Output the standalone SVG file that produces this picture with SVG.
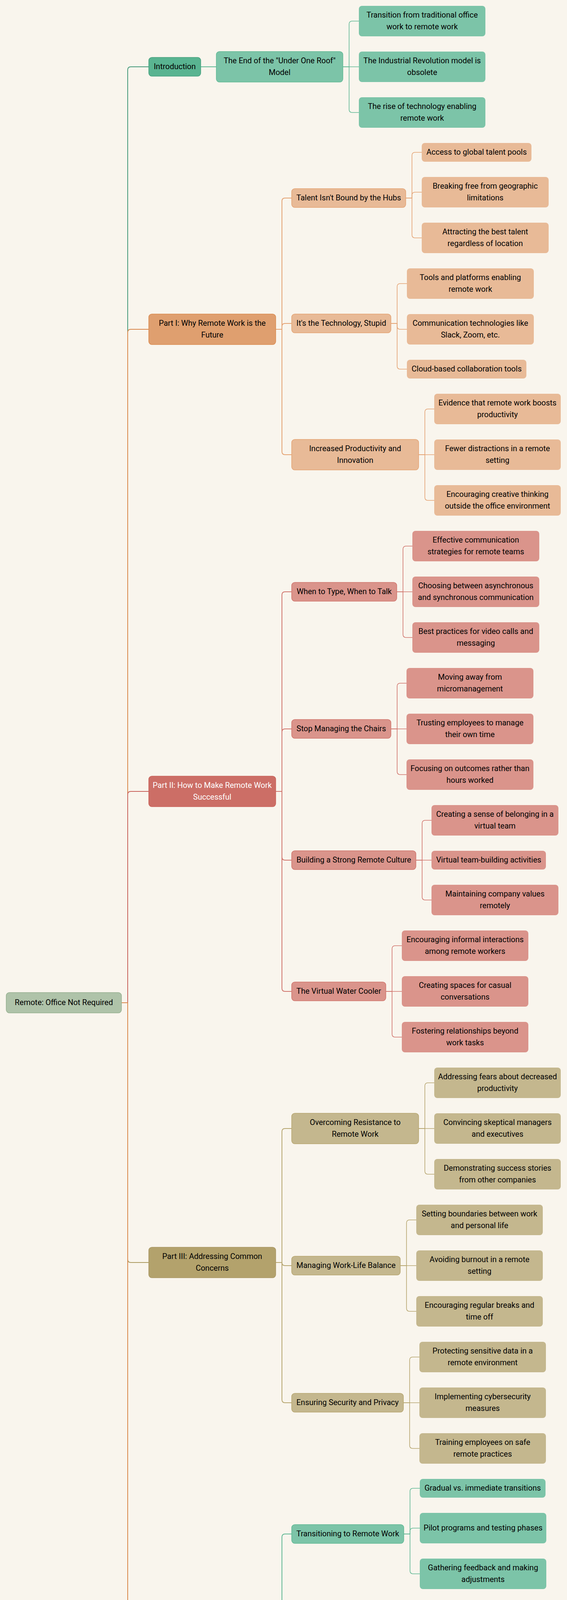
<svg xmlns="http://www.w3.org/2000/svg" width="1452" height="5136" viewBox="0 0 1452 5136">
<style>
.t{font-family:Roboto,"Liberation Sans",Arial,sans-serif;font-size:20px;text-anchor:middle;fill:#000}
.tw{fill:#ffffff}
.c{fill:none;stroke-linecap:butt}
.c1{stroke-width:2}
.c2{stroke-width:2}
.c3{stroke-width:1.6}
.dg{stroke:#45997A}.mg{stroke:#5FB894}
.do{stroke:#D9874B}.mo{stroke:#E4A272}
.dr{stroke:#C8625B}.mr{stroke:#D0746C}
.dk{stroke:#AD9B60}.mk{stroke:#B6A56F}
.root{fill:#AFC3A9;stroke:#94AF8E;stroke-width:1.5}
.l1g{fill:#59B491;stroke:#46A07E;stroke-width:1.5}
.l1o{fill:#DF9F6F;stroke:#D98A4F;stroke-width:1.5}
.l1r{fill:#CC6E66;stroke:#C96259;stroke-width:1.5}
.l1k{fill:#B3A26C;stroke:#A99763;stroke-width:1.5}
.l2g{fill:#7CC4A8;stroke:#5FB894;stroke-width:1.5}
.l2o{fill:#E8BA97;stroke:#E3A272;stroke-width:1.5}
.l2r{fill:#DA948B;stroke:#D0746C;stroke-width:1.5}
.l2k{fill:#C4B78E;stroke:#B6A56F;stroke-width:1.5}
.l3g{fill:#7CC4A8}.l3o{fill:#E8BA97}.l3r{fill:#DA948B}.l3k{fill:#C4B78E}
</style>
<rect x="0" y="0" width="1452" height="5136" fill="#F9F5ED"/>
<g id="connectors">
<path class="c c1 dg" d="M311 2567 H327 V179 Q327 171 335 171 H381"/>
<path class="c c1 do" d="M311 2567 H327 V851 Q327 843 335 843 H381"/>
<path class="c c1 dr" d="M311 2567 H327 V2034 Q327 2026 335 2026 H381"/>
<path class="c c1 dk" d="M311 2567 H327 V3224 Q327 3232 335 3232 H381"/>
<path class="c c1 dg" d="M311 2567 H327 V4270 Q327 4278 335 4278 H381"/>
<path class="c c1 do" d="M311 2567 H327 V4957 Q327 4965 335 4965 H381"/>

<path class="c c2 mg" d="M514 171 H554"/>
<path class="c c2 mo" d="M706 843 H722 V515 Q722 507 730 507 H747"/>
<path class="c c2 mo" d="M706 843 H722 V836 Q722 828 730 828 H747"/>
<path class="c c2 mo" d="M706 843 H722 V1156 Q722 1164 730 1164 H747"/>
<path class="c c2 mr" d="M706 2026 H722 V1523 Q722 1515 730 1515 H747"/>
<path class="c c2 mr" d="M706 2026 H722 V1874 Q722 1866 730 1866 H747"/>
<path class="c c2 mr" d="M706 2026 H722 V2194 Q722 2202 730 2202 H747"/>
<path class="c c2 mr" d="M706 2026 H722 V2530 Q722 2538 730 2538 H747"/>
<path class="c c2 mk" d="M706 3232 H722 V2897 Q722 2889 730 2889 H747"/>
<path class="c c2 mk" d="M706 3232 H722 V3232 Q722 3240 730 3240 H747"/>
<path class="c c2 mk" d="M706 3232 H722 V3583 Q722 3591 730 3591 H747"/>
<path class="c c2 mg" d="M706 4278 H722 V3935 Q722 3927 730 3927 H747"/>
<path class="c c2 mg" d="M706 4278 H722 V4271 Q722 4263 730 4263 H747"/>
<path class="c c2 mg" d="M706 4278 H722 V4606 Q722 4614 730 4614 H747"/>
<path class="c c2 mo" d="M506 4965 H547"/>

<path class="c c3 mg" d="M878 171 H894 V62 Q894 54 902 54 H919"/>
<path class="c c3 mg" d="M878 171 H919"/>
<path class="c c3 mg" d="M878 171 H894 V280 Q894 288 902 288 H919"/>

<path class="c c3 mo" d="M1039 507 H1055 V398 Q1055 390 1063 390 H1080"/>
<path class="c c3 mo" d="M1039 507 H1055 V500 Q1055 492 1063 492 H1080"/>
<path class="c c3 mo" d="M1039 507 H1055 V601 Q1055 609 1063 609 H1080"/>
<path class="c c3 mo" d="M1001 828 H1017 V734 Q1017 726 1025 726 H1042"/>
<path class="c c3 mo" d="M1001 828 H1017 V835 Q1017 843 1025 843 H1042"/>
<path class="c c3 mo" d="M1001 828 H1017 V937 Q1017 945 1025 945 H1042"/>
<path class="c c3 mo" d="M1072 1164 H1088 V1055 Q1088 1047 1096 1047 H1112"/>
<path class="c c3 mo" d="M1072 1164 H1112"/>
<path class="c c3 mo" d="M1072 1164 H1088 V1273 Q1088 1281 1096 1281 H1112"/>

<path class="c c3 mr" d="M1016 1515 H1032 V1406 Q1032 1398 1040 1398 H1056"/>
<path class="c c3 mr" d="M1016 1515 H1056"/>
<path class="c c3 mr" d="M1016 1515 H1032 V1624 Q1032 1632 1040 1632 H1056"/>
<path class="c c3 mr" d="M1001 1866 H1017 V1757 Q1017 1749 1025 1749 H1041"/>
<path class="c c3 mr" d="M1001 1866 H1041"/>
<path class="c c3 mr" d="M1001 1866 H1017 V1975 Q1017 1983 1025 1983 H1041"/>
<path class="c c3 mr" d="M1065 2202 H1081 V2108 Q1081 2100 1089 2100 H1105"/>
<path class="c c3 mr" d="M1065 2202 H1105"/>
<path class="c c3 mr" d="M1065 2202 H1081 V2296 Q1081 2304 1089 2304 H1105"/>
<path class="c c3 mr" d="M988 2538 H1004 V2429 Q1004 2421 1012 2421 H1029"/>
<path class="c c3 mr" d="M988 2538 H1029"/>
<path class="c c3 mr" d="M988 2538 H1004 V2647 Q1004 2655 1012 2655 H1029"/>

<path class="c c3 mk" d="M1072 2889 H1088 V2780 Q1088 2772 1096 2772 H1112"/>
<path class="c c3 mk" d="M1072 2889 H1112"/>
<path class="c c3 mk" d="M1072 2889 H1088 V2998 Q1088 3006 1096 3006 H1112"/>
<path class="c c3 mk" d="M1025 3240 H1041 V3131 Q1041 3123 1049 3123 H1066"/>
<path class="c c3 mk" d="M1025 3240 H1066"/>
<path class="c c3 mk" d="M1025 3240 H1041 V3349 Q1041 3357 1049 3357 H1066"/>
<path class="c c3 mk" d="M1033 3591 H1049 V3482 Q1049 3474 1057 3474 H1074"/>
<path class="c c3 mk" d="M1033 3591 H1074"/>
<path class="c c3 mk" d="M1033 3591 H1049 V3700 Q1049 3708 1057 3708 H1074"/>

<path class="c c3 mg" d="M1034 3927 H1050 V3818 Q1050 3810 1058 3810 H1075"/>
<path class="c c3 mg" d="M1034 3927 H1050 V3920 Q1050 3912 1058 3912 H1075"/>
<path class="c c3 mg" d="M1034 3927 H1050 V4021 Q1050 4029 1058 4029 H1075"/>
<path class="c c3 mg" d="M1059 4263 H1075 V4154 Q1075 4146 1083 4146 H1100"/>
<path class="c c3 mg" d="M1059 4263 H1100"/>
<path class="c c3 mg" d="M1059 4263 H1075 V4372 Q1075 4380 1083 4380 H1100"/>
<path class="c c3 mg" d="M1072 4614 H1088 V4505 Q1088 4497 1096 4497 H1112"/>
<path class="c c3 mg" d="M1072 4614 H1112"/>
<path class="c c3 mg" d="M1072 4614 H1088 V4723 Q1088 4731 1096 4731 H1112"/>

<path class="c c3 mo" d="M707 4965 H723 V4856 Q723 4848 731 4848 H747"/>
<path class="c c3 mo" d="M707 4965 H723 V4958 Q723 4950 731 4950 H747"/>
<path class="c c3 mo" d="M707 4965 H723 V5059 Q723 5067 731 5067 H747"/>
</g>

<g id="root"><rect class="root" x="16" y="2541" width="295" height="52" rx="8"/><text class="t" x="163.5" y="2573">Remote: Office Not Required</text></g>

<g id="introduction"><rect class="l1g" x="381" y="147" width="133" height="48" rx="8"/><text class="t" x="447.5" y="177">Introduction</text></g>
<g id="end-under-one-roof"><rect class="l2g" x="554" y="132" width="324" height="78" rx="8"/><text class="t" x="716"><tspan x="716" y="162">The End of the "Under One Roof"</tspan><tspan x="716" y="192">Model</tspan></text></g>
<g id="transition"><rect class="l3g" x="919" y="15" width="324" height="78" rx="8"/><text class="t"><tspan x="1081" y="45">Transition from traditional office</tspan><tspan x="1081" y="75">work to remote work</tspan></text></g>
<g id="industrial"><rect class="l3g" x="919" y="132" width="324" height="78" rx="8"/><text class="t"><tspan x="1081" y="162">The Industrial Revolution model is</tspan><tspan x="1081" y="192">obsolete</tspan></text></g>
<g id="rise-tech"><rect class="l3g" x="919" y="249" width="324" height="78" rx="8"/><text class="t"><tspan x="1081" y="279">The rise of technology enabling</tspan><tspan x="1081" y="309">remote work</tspan></text></g>

<g id="part1"><rect class="l1o" x="381" y="804" width="325" height="78" rx="8"/><text class="t"><tspan x="543.5" y="834">Part I: Why Remote Work is the</tspan><tspan x="543.5" y="864">Future</tspan></text></g>
<g id="talent"><rect class="l2o" x="747" y="483" width="292" height="48" rx="8"/><text class="t" x="893" y="513">Talent Isn't Bound by the Hubs</text></g>
<g id="access"><rect class="l3o" x="1080" y="366" width="281" height="48" rx="8"/><text class="t" x="1220.5" y="396">Access to global talent pools</text></g>
<g id="breaking"><rect class="l3o" x="1080" y="453" width="325" height="78" rx="8"/><text class="t"><tspan x="1242.5" y="483">Breaking free from geographic</tspan><tspan x="1242.5" y="513">limitations</tspan></text></g>
<g id="attracting"><rect class="l3o" x="1080" y="570" width="325" height="78" rx="8"/><text class="t"><tspan x="1242.5" y="600">Attracting the best talent</tspan><tspan x="1242.5" y="630">regardless of location</tspan></text></g>
<g id="technology"><rect class="l2o" x="747" y="804" width="254" height="48" rx="8"/><text class="t" x="874" y="834">It's the Technology, Stupid</text></g>
<g id="tools"><rect class="l3o" x="1042" y="687" width="325" height="78" rx="8"/><text class="t"><tspan x="1204.5" y="717">Tools and platforms enabling</tspan><tspan x="1204.5" y="747">remote work</tspan></text></g>
<g id="communication-tech"><rect class="l3o" x="1042" y="804" width="325" height="78" rx="8"/><text class="t"><tspan x="1204.5" y="834">Communication technologies like</tspan><tspan x="1204.5" y="864">Slack, Zoom, etc.</tspan></text></g>
<g id="cloud"><rect class="l3o" x="1042" y="921" width="306" height="48" rx="8"/><text class="t" x="1195" y="951">Cloud-based collaboration tools</text></g>
<g id="productivity"><rect class="l2o" x="747" y="1125" width="325" height="78" rx="8"/><text class="t"><tspan x="909.5" y="1155">Increased Productivity and</tspan><tspan x="909.5" y="1185">Innovation</tspan></text></g>
<g id="evidence"><rect class="l3o" x="1112" y="1008" width="324" height="78" rx="8"/><text class="t"><tspan x="1274" y="1038">Evidence that remote work boosts</tspan><tspan x="1274" y="1068">productivity</tspan></text></g>
<g id="fewer"><rect class="l3o" x="1112" y="1125" width="324" height="78" rx="8"/><text class="t"><tspan x="1274" y="1155">Fewer distractions in a remote</tspan><tspan x="1274" y="1185">setting</tspan></text></g>
<g id="creative"><rect class="l3o" x="1112" y="1242" width="324" height="78" rx="8"/><text class="t"><tspan x="1274" y="1272">Encouraging creative thinking</tspan><tspan x="1274" y="1302">outside the office environment</tspan></text></g>

<g id="part2"><rect class="l1r" x="381" y="1987" width="325" height="78" rx="8"/><text class="t tw"><tspan x="543.5" y="2017">Part II: How to Make Remote Work</tspan><tspan x="543.5" y="2047">Successful</tspan></text></g>
<g id="type-talk"><rect class="l2r" x="747" y="1491" width="269" height="48" rx="8"/><text class="t" x="881.5" y="1521">When to Type, When to Talk</text></g>
<g id="effective"><rect class="l3r" x="1056" y="1359" width="325" height="78" rx="8"/><text class="t"><tspan x="1218.5" y="1389">Effective communication</tspan><tspan x="1218.5" y="1419">strategies for remote teams</tspan></text></g>
<g id="choosing"><rect class="l3r" x="1056" y="1476" width="325" height="78" rx="8"/><text class="t"><tspan x="1218.5" y="1506">Choosing between asynchronous</tspan><tspan x="1218.5" y="1536">and synchronous communication</tspan></text></g>
<g id="best"><rect class="l3r" x="1056" y="1593" width="325" height="78" rx="8"/><text class="t"><tspan x="1218.5" y="1623">Best practices for video calls and</tspan><tspan x="1218.5" y="1653">messaging</tspan></text></g>
<g id="chairs"><rect class="l2r" x="747" y="1842" width="254" height="48" rx="8"/><text class="t" x="874" y="1872">Stop Managing the Chairs</text></g>
<g id="moving"><rect class="l3r" x="1041" y="1710" width="325" height="78" rx="8"/><text class="t"><tspan x="1203.5" y="1740">Moving away from</tspan><tspan x="1203.5" y="1770">micromanagement</tspan></text></g>
<g id="trusting"><rect class="l3r" x="1041" y="1827" width="325" height="78" rx="8"/><text class="t"><tspan x="1203.5" y="1857">Trusting employees to manage</tspan><tspan x="1203.5" y="1887">their own time</tspan></text></g>
<g id="focusing"><rect class="l3r" x="1041" y="1944" width="325" height="78" rx="8"/><text class="t"><tspan x="1203.5" y="1974">Focusing on outcomes rather than</tspan><tspan x="1203.5" y="2004">hours worked</tspan></text></g>
<g id="culture"><rect class="l2r" x="747" y="2178" width="318" height="48" rx="8"/><text class="t" x="906" y="2208">Building a Strong Remote Culture</text></g>
<g id="belonging"><rect class="l3r" x="1105" y="2061" width="325" height="78" rx="8"/><text class="t"><tspan x="1267.5" y="2091">Creating a sense of belonging in a</tspan><tspan x="1267.5" y="2121">virtual team</tspan></text></g>
<g id="team-building"><rect class="l3r" x="1105" y="2178" width="293" height="48" rx="8"/><text class="t" x="1251.5" y="2208">Virtual team-building activities</text></g>
<g id="values"><rect class="l3r" x="1105" y="2265" width="325" height="78" rx="8"/><text class="t"><tspan x="1267.5" y="2295">Maintaining company values</tspan><tspan x="1267.5" y="2325">remotely</tspan></text></g>
<g id="water-cooler"><rect class="l2r" x="747" y="2514" width="241" height="48" rx="8"/><text class="t" x="867.5" y="2544">The Virtual Water Cooler</text></g>
<g id="informal"><rect class="l3r" x="1029" y="2382" width="324" height="78" rx="8"/><text class="t"><tspan x="1191" y="2412">Encouraging informal interactions</tspan><tspan x="1191" y="2442">among remote workers</tspan></text></g>
<g id="casual"><rect class="l3r" x="1029" y="2499" width="324" height="78" rx="8"/><text class="t"><tspan x="1191" y="2529">Creating spaces for casual</tspan><tspan x="1191" y="2559">conversations</tspan></text></g>
<g id="fostering"><rect class="l3r" x="1029" y="2616" width="324" height="78" rx="8"/><text class="t"><tspan x="1191" y="2646">Fostering relationships beyond</tspan><tspan x="1191" y="2676">work tasks</tspan></text></g>

<g id="part3"><rect class="l1k" x="381" y="3193" width="325" height="78" rx="8"/><text class="t"><tspan x="543.5" y="3223">Part III: Addressing Common</tspan><tspan x="543.5" y="3253">Concerns</tspan></text></g>
<g id="resistance"><rect class="l2k" x="747" y="2850" width="325" height="78" rx="8"/><text class="t"><tspan x="909.5" y="2880">Overcoming Resistance to</tspan><tspan x="909.5" y="2910">Remote Work</tspan></text></g>
<g id="fears"><rect class="l3k" x="1112" y="2733" width="324" height="78" rx="8"/><text class="t"><tspan x="1274" y="2763">Addressing fears about decreased</tspan><tspan x="1274" y="2793">productivity</tspan></text></g>
<g id="convincing"><rect class="l3k" x="1112" y="2850" width="324" height="78" rx="8"/><text class="t"><tspan x="1274" y="2880">Convincing skeptical managers</tspan><tspan x="1274" y="2910">and executives</tspan></text></g>
<g id="demonstrating"><rect class="l3k" x="1112" y="2967" width="324" height="78" rx="8"/><text class="t"><tspan x="1274" y="2997">Demonstrating success stories</tspan><tspan x="1274" y="3027">from other companies</tspan></text></g>
<g id="work-life"><rect class="l2k" x="747" y="3216" width="278" height="48" rx="8"/><text class="t" x="886" y="3246">Managing Work-Life Balance</text></g>
<g id="boundaries"><rect class="l3k" x="1066" y="3084" width="324" height="78" rx="8"/><text class="t"><tspan x="1228" y="3114">Setting boundaries between work</tspan><tspan x="1228" y="3144">and personal life</tspan></text></g>
<g id="burnout"><rect class="l3k" x="1066" y="3201" width="324" height="78" rx="8"/><text class="t"><tspan x="1228" y="3231">Avoiding burnout in a remote</tspan><tspan x="1228" y="3261">setting</tspan></text></g>
<g id="breaks"><rect class="l3k" x="1066" y="3318" width="324" height="78" rx="8"/><text class="t"><tspan x="1228" y="3348">Encouraging regular breaks and</tspan><tspan x="1228" y="3378">time off</tspan></text></g>
<g id="security"><rect class="l2k" x="747" y="3567" width="286" height="48" rx="8"/><text class="t" x="890" y="3597">Ensuring Security and Privacy</text></g>
<g id="protecting"><rect class="l3k" x="1074" y="3435" width="324" height="78" rx="8"/><text class="t"><tspan x="1236" y="3465">Protecting sensitive data in a</tspan><tspan x="1236" y="3495">remote environment</tspan></text></g>
<g id="cybersecurity"><rect class="l3k" x="1074" y="3552" width="324" height="78" rx="8"/><text class="t"><tspan x="1236" y="3582">Implementing cybersecurity</tspan><tspan x="1236" y="3612">measures</tspan></text></g>
<g id="training"><rect class="l3k" x="1074" y="3669" width="324" height="78" rx="8"/><text class="t"><tspan x="1236" y="3699">Training employees on safe</tspan><tspan x="1236" y="3729">remote practices</tspan></text></g>

<g id="part4"><rect class="l1g" x="381" y="4239" width="325" height="78" rx="8"/><text class="t"><tspan x="543.5" y="4269">Part IV: Practical Steps for</tspan><tspan x="543.5" y="4299">Implementation</tspan></text></g>
<g id="transitioning"><rect class="l2g" x="747" y="3903" width="287" height="48" rx="8"/><text class="t" x="890.5" y="3933">Transitioning to Remote Work</text></g>
<g id="gradual"><rect class="l3g" x="1075" y="3786" width="322" height="48" rx="8"/><text class="t" x="1236" y="3816">Gradual vs. immediate transitions</text></g>
<g id="pilot"><rect class="l3g" x="1075" y="3873" width="324" height="78" rx="8"/><text class="t" x="1237" y="3918">Pilot programs and testing phases</text></g>
<g id="feedback"><rect class="l3g" x="1075" y="3990" width="324" height="78" rx="8"/><text class="t"><tspan x="1237" y="4020">Gathering feedback and making</tspan><tspan x="1237" y="4050">adjustments</tspan></text></g>
<g id="hiring"><rect class="l2g" x="747" y="4239" width="312" height="48" rx="8"/><text class="t" x="903" y="4269">Hiring and Onboarding Remotely</text></g>
<g id="traits"><rect class="l3g" x="1100" y="4107" width="324" height="78" rx="8"/><text class="t"><tspan x="1262" y="4137">Identifying traits of successful</tspan><tspan x="1262" y="4167">remote workers</tspan></text></g>
<g id="interviews"><rect class="l3g" x="1100" y="4224" width="324" height="78" rx="8"/><text class="t"><tspan x="1262" y="4254">Conducting effective remote</tspan><tspan x="1262" y="4284">interviews</tspan></text></g>
<g id="onboarding"><rect class="l3g" x="1100" y="4341" width="324" height="78" rx="8"/><text class="t"><tspan x="1262" y="4371">Streamlining the onboarding</tspan><tspan x="1262" y="4401">process for new hires</tspan></text></g>
<g id="performance"><rect class="l2g" x="747" y="4575" width="325" height="78" rx="8"/><text class="t"><tspan x="909.5" y="4605">Performance Evaluation in a</tspan><tspan x="909.5" y="4635">Remote Setting</tspan></text></g>
<g id="measuring"><rect class="l3g" x="1112" y="4458" width="324" height="78" rx="8"/><text class="t"><tspan x="1274" y="4488">Measuring productivity without</tspan><tspan x="1274" y="4518">physical oversight</tspan></text></g>
<g id="kpis"><rect class="l3g" x="1112" y="4575" width="324" height="78" rx="8"/><text class="t"><tspan x="1274" y="4605">Using key performance indicators</tspan><tspan x="1274" y="4635">(KPIs)</tspan></text></g>
<g id="constructive"><rect class="l3g" x="1112" y="4692" width="324" height="78" rx="8"/><text class="t"><tspan x="1274" y="4722">Providing constructive feedback</tspan><tspan x="1274" y="4752">remotely</tspan></text></g>

<g id="conclusion"><rect class="l1o" x="381" y="4941" width="125" height="48" rx="8"/><text class="t" x="443.5" y="4971">Conclusion</text></g>
<g id="call-to-action"><rect class="l2o" x="547" y="4941" width="160" height="48" rx="8"/><text class="t" x="627" y="4971">A Call to Action</text></g>
<g id="tyranny"><rect class="l3o" x="747" y="4809" width="325" height="78" rx="8"/><text class="t"><tspan x="909.5" y="4839">Ending the tyranny of being</tspan><tspan x="909.5" y="4869">shackled to the office</tspan></text></g>
<g id="embracing"><rect class="l3o" x="747" y="4926" width="282" height="48" rx="8"/><text class="t" x="888" y="4956">Embracing the future of work</text></g>
<g id="empowering"><rect class="l3o" x="747" y="5013" width="325" height="108" rx="8"/><text class="t"><tspan x="909.5" y="5043">Empowering individuals and</tspan><tspan x="909.5" y="5073">organizations through remote</tspan><tspan x="909.5" y="5103">work</tspan></text></g>
</svg>
